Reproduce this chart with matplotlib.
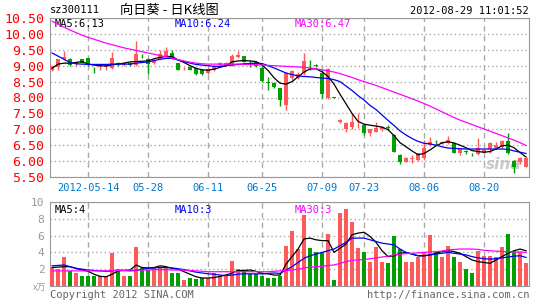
import numpy as np
import matplotlib
matplotlib.use("Agg")
import matplotlib.pyplot as plt

plt.rcParams['font.family'] = ['DejaVu Sans Mono', 'Noto Sans CJK SC']

# daily candles, 2012-05-04 .. 2012-08-29 (index = trading day)
opens = [8.88, 8.96, 9.21, 9.21, 9.05, 9.20, 9.23, 8.93, 8.96, 8.95,
         8.93, 9.10, 9.03, 9.10, 9.02, 9.31, 9.21, 9.08, 9.22, 9.30,
         9.39, 9.08, 8.92, 8.97, 8.92, 8.87, 8.77, 8.87, 9.02, 9.03,
         9.03, 9.28, 9.30, 9.09, 9.13, 8.92, 8.48, 8.45, 8.29, 7.76,
         8.62, 8.62, 8.76, 9.00, 9.02, 8.76, 7.97, 8.00, 7.22, 7.01,
         7.08, 7.19, 7.15, 6.87, 6.92, 7.00, 7.06, 6.82, 6.19, 5.98,
         6.08, 6.03, 6.09, 6.51, 6.61, 6.56, 6.58, 6.58, 6.25, 6.31,
         6.22, 6.21, 6.27, 6.37, 6.40, 6.43, 6.64, 6.01, 5.98, 5.82]
highs = [9.00, 9.22, 9.47, 9.23, 9.16, 9.22, 9.25, 8.95, 9.02, 9.06,
         9.42, 9.12, 9.12, 9.12, 9.77, 9.38, 9.24, 9.20, 9.49, 9.60,
         9.50, 9.10, 8.97, 8.99, 8.94, 8.89, 8.93, 9.01, 9.12, 9.12,
         9.36, 9.45, 9.32, 9.18, 9.15, 9.00, 8.64, 8.50, 8.31, 8.80,
         8.88, 8.80, 9.40, 9.18, 9.05, 8.87, 8.92, 8.01, 7.33, 7.22,
         7.51, 7.50, 7.17, 7.01, 7.24, 7.10, 7.12, 6.84, 6.21, 6.13,
         6.20, 6.27, 6.66, 6.77, 6.65, 6.63, 6.79, 6.60, 6.38, 6.36,
         6.26, 6.73, 6.38, 6.60, 6.60, 6.66, 6.89, 6.05, 6.12, 6.12]
lows = [8.83, 8.86, 9.18, 9.00, 9.00, 9.08, 8.98, 8.78, 8.86, 8.88,
        8.90, 8.98, 9.00, 9.00, 9.00, 9.24, 8.73, 9.05, 9.20, 9.27,
        9.20, 8.85, 8.86, 8.85, 8.72, 8.71, 8.74, 8.84, 9.00, 9.00,
        9.00, 9.24, 9.11, 8.97, 8.96, 8.50, 8.24, 8.30, 7.72, 7.62,
        8.55, 8.58, 8.72, 8.87, 8.96, 7.98, 7.95, 7.98, 7.20, 6.90,
        7.02, 7.05, 6.82, 6.80, 6.90, 6.95, 6.98, 6.28, 5.90, 5.96,
        5.95, 6.00, 6.05, 6.48, 6.52, 6.54, 6.55, 6.24, 6.20, 6.22,
        6.17, 6.18, 6.24, 6.26, 6.38, 6.40, 6.22, 5.64, 5.92, 5.80]
closes = [8.98, 9.20, 9.27, 9.03, 9.12, 9.10, 9.01, 8.92, 8.97, 9.02,
          9.24, 9.04, 9.10, 9.03, 9.36, 9.30, 9.05, 9.17, 9.37, 9.46,
          9.23, 8.87, 8.93, 8.87, 8.74, 8.73, 8.91, 8.99, 9.10, 9.09,
          9.32, 9.33, 9.13, 9.08, 8.98, 8.53, 8.47, 8.34, 7.92, 8.76,
          8.82, 8.74, 9.14, 8.98, 8.98, 8.10, 8.90, 7.99, 7.30, 7.19,
          7.24, 7.21, 6.89, 7.00, 7.05, 7.06, 7.05, 6.30, 5.98, 6.11,
          6.10, 6.25, 6.40, 6.61, 6.60, 6.61, 6.66, 6.26, 6.37, 6.29,
          6.21, 6.40, 6.36, 6.56, 6.50, 6.64, 6.24, 5.80, 6.09, 6.09]
volumes = [2.2, 2.0, 3.5, 1.75, 1.55, 1.15, 1.15, 1.25, 1.2, 1.2,
           3.9, 1.85, 1.25, 1.15, 4.7, 2.1, 1.95, 2.1, 2.3, 2.1,
           1.6, 1.5, 0.75, 0.95, 0.85, 1.0, 0.95, 1.5, 1.15, 1.15,
           3.0, 2.05, 1.85, 1.45, 1.45, 1.2, 1.0, 0.9, 1.25, 4.8,
           6.5, 4.4, 8.5, 4.55, 4.1, 4.0, 6.2, 0.7, 8.65, 9.15,
           7.65, 4.55, 4.0, 2.85, 4.7, 2.9, 2.7, 5.9, 4.35, 2.85,
           2.85, 3.45, 4.05, 6.1, 4.0, 3.5, 4.8, 3.45, 2.85, 2.05,
           1.55, 4.2, 3.6, 3.6, 3.45, 4.65, 6.2, 4.15, 4.0, 2.7]

# moving averages as drawn on the chart
ma5 = [8.92, 9.05, 9.08, 9.08, 9.10, 9.13, 9.05, 9.02, 9.00, 8.99,
       9.03, 9.05, 9.08, 9.12, 9.13, 9.14, 9.15, 9.22, 9.26, 9.29,
       9.29, 9.18, 9.10, 9.00, 8.92, 8.87, 8.86, 8.89, 8.95, 9.00,
       9.12, 9.15, 9.16, 9.15, 9.13, 9.02, 8.85, 8.62, 8.45, 8.42,
       8.50, 8.65, 8.80, 8.90, 8.90, 8.81, 8.66, 8.42, 8.10, 7.80,
       7.50, 7.25, 7.16, 7.13, 7.10, 7.07, 6.99, 6.80, 6.58, 6.45,
       6.32, 6.20, 6.24, 6.35, 6.48, 6.57, 6.61, 6.57, 6.50, 6.42,
       6.33, 6.30, 6.28, 6.30, 6.38, 6.48, 6.50, 6.42, 6.27, 6.13]
ma10 = [9.40, 9.30, 9.20, 9.10, 9.06, 9.05, 9.04, 9.04, 9.04, 9.04,
        9.05, 9.05, 9.05, 9.05, 9.08, 9.10, 9.12, 9.16, 9.20, 9.23,
        9.23, 9.18, 9.13, 9.08, 9.04, 9.02, 9.00, 8.98, 8.98, 9.00,
        9.02, 9.04, 9.06, 9.07, 9.08, 9.07, 9.00, 8.93, 8.85, 8.77,
        8.72, 8.68, 8.66, 8.65, 8.63, 8.61, 8.60, 8.56, 8.50, 8.36,
        8.22, 8.06, 7.92, 7.75, 7.62, 7.45, 7.28, 7.12, 6.95, 6.82,
        6.71, 6.62, 6.56, 6.54, 6.50, 6.45, 6.41, 6.40, 6.39, 6.38,
        6.38, 6.38, 6.38, 6.38, 6.38, 6.38, 6.37, 6.32, 6.28, 6.24]
ma30 = [10.40, 10.30, 10.21, 10.12, 10.04, 9.96, 9.89, 9.83, 9.77, 9.71,
        9.66, 9.61, 9.56, 9.52, 9.48, 9.44, 9.40, 9.36, 9.32, 9.28,
        9.24, 9.19, 9.15, 9.11, 9.08, 9.06, 9.05, 9.05, 9.05, 9.05,
        9.05, 9.05, 9.04, 9.04, 9.03, 9.02, 9.01, 9.00, 8.99, 8.98,
        8.97, 8.96, 8.95, 8.93, 8.90, 8.87, 8.84, 8.80, 8.75, 8.69,
        8.63, 8.56, 8.50, 8.44, 8.38, 8.31, 8.24, 8.17, 8.10, 8.03,
        7.96, 7.89, 7.81, 7.73, 7.64, 7.55, 7.46, 7.37, 7.29, 7.22,
        7.15, 7.08, 7.01, 6.94, 6.87, 6.80, 6.73, 6.66, 6.58, 6.49]
vma5 = [2.2, 2.25, 2.3, 2.3, 2.1, 1.9, 1.75, 1.4, 1.15, 1.1,
        1.4, 1.8, 1.85, 1.9, 2.5, 2.2, 2.15, 2.2, 2.4, 2.3,
        2.1, 2.0, 1.7, 1.4, 1.1, 0.95, 0.95, 1.0, 1.15, 1.3,
        1.55, 1.85, 1.85, 1.9, 1.75, 1.5, 1.45, 1.3, 1.3, 2.6,
        3.5, 4.4, 5.6, 5.7, 5.5, 5.4, 5.4, 4.0, 4.5, 5.0,
        6.1, 6.3, 6.4, 5.9, 5.2, 4.2, 3.5, 3.6, 3.9, 4.0,
        3.8, 3.6, 3.6, 3.7, 3.9, 4.1, 4.2, 4.1, 3.9, 3.5,
        3.1, 2.9, 2.8, 2.7, 3.1, 3.5, 3.9, 4.2, 4.4, 4.2]
vma10 = [2.4, 2.45, 2.5, 2.3, 2.1, 2.0, 1.9, 1.85, 1.8, 1.75,
         1.8, 1.9, 1.85, 1.8, 1.85, 2.0, 2.1, 2.15, 2.2, 2.2,
         2.15, 2.05, 1.95, 1.8, 1.65, 1.55, 1.45, 1.4, 1.3, 1.25,
         1.3, 1.4, 1.45, 1.45, 1.45, 1.45, 1.5, 1.55, 1.5, 1.9,
         2.3, 2.8, 3.3, 3.6, 3.8, 4.0, 4.2, 4.4, 4.8, 5.2,
         5.7, 5.7, 5.7, 5.5, 5.3, 5.1, 5.0, 4.9, 4.4, 4.0,
         3.8, 3.6, 3.6, 3.7, 3.8, 3.9, 4.0, 3.9, 3.8, 3.7,
         3.5, 3.35, 3.25, 3.2, 3.25, 3.35, 3.45, 3.55, 3.6, 3.4]
vma30 = [1.8, 1.8, 1.8, 1.8, 1.8, 1.8, 1.8, 1.8, 1.8, 1.8,
         1.85, 1.85, 1.85, 1.9, 1.9, 1.9, 1.9, 1.95, 1.95, 1.95,
         1.9, 1.9, 1.9, 1.85, 1.8, 1.75, 1.7, 1.7, 1.7, 1.7,
         1.7, 1.7, 1.7, 1.7, 1.7, 1.7, 1.7, 1.75, 1.8, 1.85,
         1.9, 2.0, 2.15, 2.25, 2.3, 2.35, 2.45, 2.5, 2.7, 2.9,
         3.05, 3.1, 3.15, 3.25, 3.35, 3.45, 3.55, 3.7, 3.8, 3.85,
         3.9, 3.95, 4.0, 4.05, 4.1, 4.15, 4.3, 4.35, 4.4, 4.4,
         4.4, 4.35, 4.25, 4.2, 4.15, 4.1, 4.1, 4.05, 4.05, 4.0]

date_pos = [6, 16, 26, 35, 45, 52, 62, 72]
date_labels = ['2012-05-14', '05-28', '06-11', '06-25', '07-09', '07-23', '08-06', '08-20']
price_ticks = [5.5, 6.0, 6.5, 7.0, 7.5, 8.0, 8.5, 9.0, 9.5, 10.0, 10.5]
vol_ticks = [2, 4, 6, 8, 10]

RED = '#ff5a5a'
GREEN = '#00a000'
GRID = '#aaaaaa'

o = np.array(opens); h = np.array(highs); l = np.array(lows); c = np.array(closes)
x = np.arange(len(c))
up = c >= o
col = np.where(up, RED, GREEN)

W, H = 545, 300
fig = plt.figure(figsize=(W / 100, H / 100), dpi=100)
ax = fig.add_axes([50 / W, 123 / H, 479 / W, 159 / H])
axv = fig.add_axes([50 / W, 14 / H, 479 / W, 84 / H])

# candles
ax.vlines(x, l, h, colors=col, lw=1, zorder=3)
body = np.maximum(np.abs(c - o), 0.015)
ax.bar(x, body, bottom=np.minimum(o, c), width=0.75, color=col, lw=0, zorder=3)
ax.plot(x, ma5, color='black', lw=0.9, zorder=4)
ax.plot(x, ma10, color='#0000ee', lw=0.9, zorder=4)
ax.plot(x, ma30, color='#ff00ff', lw=0.9, zorder=4)

ax.set_xlim(-0.35, 79.5)
ax.set_ylim(5.5, 10.5)
ax.set_yticks(price_ticks)
ax.set_yticklabels(['%.2f' % t for t in price_ticks], color='red', fontsize=9.5)
ax.set_xticks(date_pos)
ax.set_xticklabels(date_labels, color='#0077cc', fontsize=7.5)
ax.tick_params(length=0, pad=4)
ax.grid(axis='y', ls=(0, (1, 2)), color=GRID, lw=1)
ax.grid(axis='x', ls=(0, (4, 3)), color=GRID, lw=1)
ax.set_axisbelow(True)
for s in ax.spines.values():
    s.set_color('#999999')

ax.text(0.01, 0.965, 'MA5:6.13', transform=ax.transAxes, fontsize=7.5, color='black', va='center')
ax.text(0.26, 0.965, 'MA10:6.24', transform=ax.transAxes, fontsize=7.5, color='#0000ee', va='center')
ax.text(0.51, 0.965, 'MA30:6.47', transform=ax.transAxes, fontsize=7.5, color='#ff00ff', va='center')
ax.text(75.3, 5.9, 'sina', fontsize=11, color='#bbbbbb', style='italic', weight='bold',
        ha='center', va='center', family='DejaVu Sans', alpha=0.8, zorder=2)

# volume
axv.bar(x, volumes, width=0.8, color=col, lw=0, zorder=3)
axv.plot(x, vma5, color='black', lw=0.9, zorder=4)
axv.plot(x, vma10, color='#0000ee', lw=0.9, zorder=4)
axv.plot(x, vma30, color='#ff00ff', lw=0.9, zorder=4)
axv.set_xlim(-0.35, 79.5)
axv.set_ylim(0, 10)
axv.set_yticks(vol_ticks)
axv.set_yticklabels([str(t) for t in vol_ticks], color='#999999', fontsize=8)
axv.set_xticks(date_pos)
axv.set_xticklabels([])
axv.tick_params(length=0, pad=4)
axv.grid(axis='y', ls=(0, (1, 2)), color=GRID, lw=1)
axv.grid(axis='x', ls=(0, (4, 3)), color=GRID, lw=1)
axv.set_axisbelow(True)
for s in axv.spines.values():
    s.set_color('#999999')
axv.text(0.01, 0.9, 'MA5:4', transform=axv.transAxes, fontsize=7.5, color='black', va='center')
axv.text(0.26, 0.9, 'MA10:3', transform=axv.transAxes, fontsize=7.5, color='#0000ee', va='center')
axv.text(0.51, 0.9, 'MA30:3', transform=axv.transAxes, fontsize=7.5, color='#ff00ff', va='center')

# header / footer texts
fig.text(50 / W, 1 - 10 / H, 'sz300111', fontsize=7.5, va='center')
fig.text(120 / W, 1 - 10 / H, '向日葵 - 日K线图', fontsize=9.5, va='center',
         family=['Noto Sans CJK SC', 'DejaVu Sans'])
fig.text(529 / W, 1 - 11 / H, '2012-08-29 11:01:52', fontsize=7.5, va='center', ha='right')
fig.text(46 / W, 1 - 288 / H, 'x万', fontsize=6.5, va='center', ha='right', color='#999999',
         family=['Noto Sans CJK SC', 'DejaVu Sans'])
fig.text(50 / W, 1 - 294.5 / H, 'Copyright 2012 SINA.COM', fontsize=7.5, va='center', color='#666666')
fig.text(529 / W, 1 - 294.5 / H, 'http://finance.sina.com.cn', fontsize=7.5, va='center',
         ha='right', color='#666666')

fig.savefig('out.png', dpi=100, facecolor='white')
